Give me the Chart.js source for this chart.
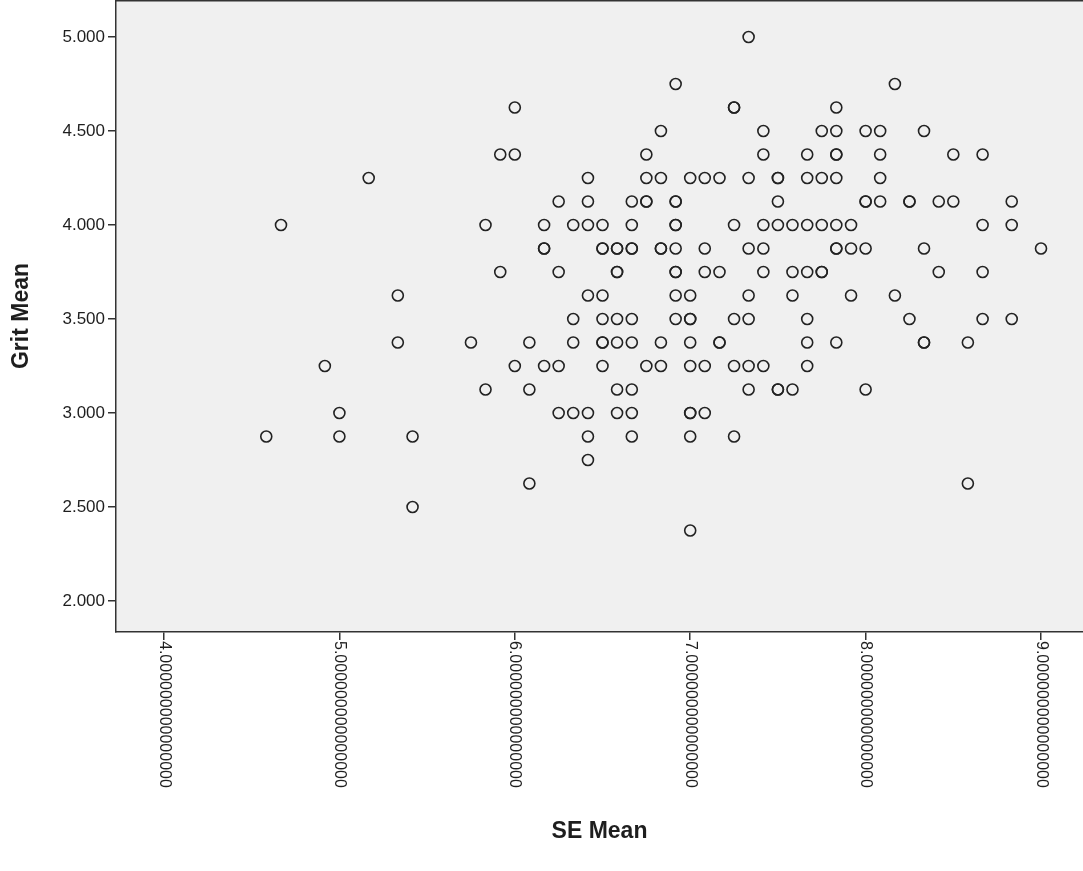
<!DOCTYPE html>
<html><head><meta charset="utf-8">
<script src="https://cdn.jsdelivr.net/npm/chart.js@4"></script>
<style>html,body{margin:0;padding:0;background:#fff}#wrap{width:1083px;height:871px}</style>
</head><body><div id="wrap"><canvas id="c" width="1083" height="871"></canvas></div>
<script>
// Grit Mean levels (rows) and the SE Mean values observed at each level
const gritLevels = [5.000, 4.750, 4.625, 4.500, 4.375, 4.250, 4.125, 4.000, 3.875, 3.750, 3.625, 3.500, 3.375, 3.250, 3.125, 3.000, 2.875, 2.750, 2.625, 2.500, 2.375];
const seAtGrit5000 = [7.333];
const seAtGrit4750 = [6.917, 8.167];
const seAtGrit4625 = [6.000, 7.250, 7.250, 7.833];
const seAtGrit4500 = [6.833, 7.417, 7.750, 7.833, 8.000, 8.083, 8.333];
const seAtGrit4375 = [5.917, 6.000, 6.750, 7.417, 7.667, 7.833, 7.833, 8.083, 8.500, 8.667];
const seAtGrit4250 = [5.167, 6.417, 6.750, 6.833, 7.000, 7.083, 7.167, 7.333, 7.500, 7.500, 7.667, 7.750, 7.833, 8.083];
const seAtGrit4125 = [6.250, 6.417, 6.667, 6.750, 6.750, 6.917, 6.917, 7.500, 8.000, 8.000, 8.083, 8.250, 8.250, 8.417, 8.500, 8.833];
const seAtGrit4000 = [4.667, 5.833, 6.167, 6.333, 6.417, 6.500, 6.667, 6.917, 6.917, 7.250, 7.417, 7.500, 7.583, 7.667, 7.750, 7.833, 7.917, 8.667, 8.833];
const seAtGrit3875 = [6.167, 6.167, 6.500, 6.500, 6.583, 6.583, 6.667, 6.667, 6.833, 6.833, 6.917, 7.083, 7.333, 7.417, 7.833, 7.833, 7.917, 8.000, 8.333, 9.000];
const seAtGrit3750 = [5.917, 6.250, 6.583, 6.583, 6.917, 6.917, 7.083, 7.167, 7.417, 7.583, 7.667, 7.750, 7.750, 8.417, 8.667];
const seAtGrit3625 = [5.333, 6.417, 6.500, 6.917, 7.000, 7.333, 7.583, 7.917, 8.167];
const seAtGrit3500 = [6.333, 6.500, 6.583, 6.667, 6.917, 7.000, 7.000, 7.250, 7.333, 7.667, 8.250, 8.667, 8.833];
const seAtGrit3375 = [5.333, 5.750, 6.083, 6.333, 6.500, 6.500, 6.583, 6.667, 6.833, 7.000, 7.167, 7.167, 7.667, 7.833, 8.333, 8.333, 8.583];
const seAtGrit3250 = [4.917, 6.000, 6.167, 6.250, 6.500, 6.750, 6.833, 7.000, 7.083, 7.250, 7.333, 7.417, 7.667];
const seAtGrit3125 = [5.833, 6.083, 6.583, 6.667, 7.333, 7.500, 7.500, 7.583, 8.000];
const seAtGrit3000 = [5.000, 6.250, 6.333, 6.417, 6.583, 6.667, 7.000, 7.000, 7.083];
const seAtGrit2875 = [4.583, 5.000, 5.417, 6.417, 6.667, 7.000, 7.250];
const seAtGrit2750 = [6.417];
const seAtGrit2625 = [6.083, 8.583];
const seAtGrit2500 = [5.417];
const seAtGrit2375 = [7.000];
const seByGrit = [seAtGrit5000, seAtGrit4750, seAtGrit4625, seAtGrit4500, seAtGrit4375, seAtGrit4250, seAtGrit4125, seAtGrit4000, seAtGrit3875, seAtGrit3750, seAtGrit3625, seAtGrit3500, seAtGrit3375, seAtGrit3250, seAtGrit3125, seAtGrit3000, seAtGrit2875, seAtGrit2750, seAtGrit2625, seAtGrit2500, seAtGrit2375];

const xTickValues = [4, 5, 6, 7, 8, 9];
const xTickLabels = ['4.000000000000000', '5.000000000000000', '6.000000000000000', '7.000000000000000', '8.000000000000000', '9.000000000000000'];
const yTickValues = [2.0, 2.5, 3.0, 3.5, 4.0, 4.5, 5.0];
const yTickLabels = ['2.000', '2.500', '3.000', '3.500', '4.000', '4.500', '5.000'];

const points = [];
gritLevels.forEach((g, i) => seByGrit[i].forEach(s => points.push({ x: s, y: g })));

const FONT = '"Liberation Sans", Arial, sans-serif';
const TXT = '#1e1e1e';

const bgPlugin = {
  id: 'bg',
  beforeDraw(chart) {
    const a = chart.chartArea, c = chart.ctx;
    c.save();
    c.fillStyle = '#F0F0F0';
    c.fillRect(a.left, a.top, a.right - a.left, a.bottom - a.top);
    c.restore();
  },
  afterDraw(chart) {
    const a = chart.chartArea, c = chart.ctx, xs = chart.scales.x;
    c.save();
    c.strokeStyle = '#333';
    c.lineWidth = 1.5;
    c.beginPath(); c.moveTo(a.left, a.top + 0.75); c.lineTo(a.right, a.top + 0.75); c.stroke();
    c.font = '16px ' + FONT;
    c.fillStyle = TXT;
    c.textAlign = 'left';
    c.textBaseline = 'middle';
    xTickValues.forEach((v, i) => {
      const px = xs.getPixelForValue(v);
      c.save();
      c.translate(px, xs.top + 9);
      c.rotate(Math.PI / 2);
      c.fillText(xTickLabels[i], 0, 0);
      c.restore();
    });
    c.restore();
  }
};

function zeroPad(s) { s.paddingTop = 0; s.paddingBottom = 0; s.paddingLeft = 0; s.paddingRight = 0; }

new Chart(document.getElementById('c'), {
  type: 'scatter',
  data: { datasets: [{
    data: points,
    pointRadius: 5.5,
    pointHoverRadius: 5.5,
    pointBorderWidth: 1.6,
    borderColor: '#222',
    backgroundColor: 'rgba(0,0,0,0)',
    clip: false
  }] },
  plugins: [bgPlugin],
  options: {
    responsive: false,
    animation: false,
    events: [],
    layout: { autoPadding: false, padding: { top: 0, right: 0, left: 0, bottom: 0 } },
    plugins: { legend: { display: false }, tooltip: { enabled: false } },
    scales: {
      x: {
        type: 'linear',
        min: 3.7263, max: 9.2394,
        afterBuildTicks: s => { s.ticks = xTickValues.map(v => ({ value: v })); },
        afterFit: s => { s.height = 239; zeroPad(s); },
        grid: { drawOnChartArea: false, drawTicks: true, tickLength: 8, color: '#333', lineWidth: 1.5 },
        border: { color: '#333', width: 1.5 },
        ticks: { display: false },
        title: { display: true, text: 'SE Mean', color: TXT, font: { family: FONT, size: 23, weight: 'bold' }, padding: { top: 26, bottom: 26 } }
      },
      y: {
        type: 'linear',
        min: 1.8351, max: 5.1968,
        afterBuildTicks: s => { s.ticks = yTickValues.map(v => ({ value: v })); },
        afterFit: s => { s.width = 116; zeroPad(s); },
        grid: { drawOnChartArea: false, drawTicks: true, tickLength: 8, color: '#333', lineWidth: 1.5 },
        border: { color: '#333', width: 1.5 },
        ticks: {
          color: TXT, padding: 3, font: { family: FONT, size: 17 },
          callback: (v) => { const i = yTickValues.indexOf(v); return i >= 0 ? yTickLabels[i] : ''; }
        },
        title: { display: true, text: 'Grit Mean', color: TXT, font: { family: FONT, size: 23, weight: 'bold' }, padding: { top: 8, bottom: 8 } }
      }
    }
  }
});
</script>
</body></html>
